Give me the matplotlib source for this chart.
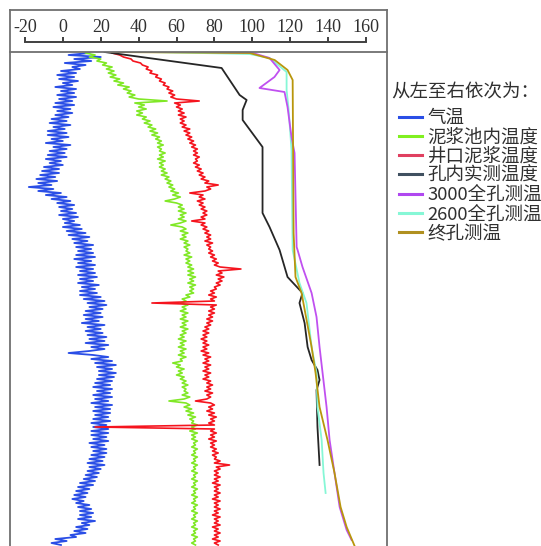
import numpy as np
import matplotlib
matplotlib.use("Agg")
import matplotlib.pyplot as plt

plt.rcParams['font.family'] = ['Noto Sans CJK SC', 'DejaVu Sans']
plt.rcParams['axes.unicode_minus'] = False

# depth is in arbitrary units (0 = top of the plot, 494 = bottom)
noisy_depth = np.arange(1, 494, 2)

# 气温
air_temp = [
    14, 3, 20, 6, 15, 1, 12, 5, 9, -1,
    7, -3, 6, -2, 8, 0, 5, -4, 7, -1,
    6, -3, 7, -2, 5, -4, 6, -5, 4, -3,
    5, -4, 3, -6, 2, -7, 4, -5, 1, -8,
    2, -8, 3, -6, 0, -9, 4, -5, 2, -7,
    1, -8, 2, -9, -1, -7, 0, -10, -2, -11,
    -2, -12, -4, -14, -3, -13, -6, -18, -5, -13,
    -1, -9, 2, -6, 4, -3, 6, -2, 5, -1,
    7, -2, 8, 0, 6, 1, 9, 0, 10, 2,
    12, 3, 14, 5, 13, 6, 16, 7, 15, 8,
    16, 7, 17, 6, 15, 8, 17, 7, 16, 9,
    17, 8, 18, 9, 16, 8, 19, 10, 17, 9,
    18, 9, 20, 11, 22, 13, 23, 14, 21, 12,
    20, 11, 21, 12, 19, 10, 22, 13, 20, 12,
    21, 13, 23, 14, 22, 12, 24, 15, 22, 14,
    3, 16, 24, 15, 26, 17, 28, 18, 26, 19,
    28, 19, 27, 18, 26, 17, 25, 16, 26, 18,
    25, 16, 26, 17, 24, 15, 26, 17, 25, 16,
    25, 17, 24, 16, 25, 15, 23, 16, 24, 15,
    24, 15, 23, 16, 24, 14, 22, 15, 23, 16,
    23, 15, 22, 14, 21, 13, 22, 14, 20, 13,
    19, 12, 18, 11, 17, 9, 16, 8, 14, 7,
    13, 6, 12, 5, 11, 7, 14, 8, 15, 9,
    16, 9, 15, 8, 17, 10, 14, 7, 13, 6,
    12, 4, 7, -4, 2, -6, -1,
]

# 泥浆池内温度
pit_temp = [
    12, 17, 14, 20, 18, 23, 21, 26, 23, 27,
    24, 28, 25, 30, 27, 32, 29, 35, 32, 36,
    34, 38, 35, 40, 55, 38, 43, 40, 44, 39,
    42, 39, 44, 42, 46, 43, 47, 45, 49, 46,
    50, 47, 51, 49, 52, 50, 53, 50, 52, 51,
    54, 51, 53, 50, 54, 51, 53, 51, 54, 52,
    55, 52, 56, 54, 57, 55, 58, 56, 59, 57,
    61, 58, 62, 59, 54, 60, 63, 61, 64, 61,
    65, 62, 64, 61, 65, 62, 57, 63, 65, 62,
    66, 63, 65, 62, 66, 64, 67, 64, 66, 65,
    67, 64, 68, 65, 67, 65, 68, 66, 69, 66,
    69, 66, 70, 67, 69, 66, 70, 67, 69, 67,
    69, 65, 67, 63, 65, 62, 66, 63, 65, 62,
    66, 63, 65, 62, 66, 63, 65, 62, 66, 63,
    65, 62, 64, 61, 65, 62, 64, 61, 65, 62,
    64, 61, 65, 62, 63, 58, 62, 60, 64, 61,
    63, 60, 64, 62, 65, 63, 66, 63, 65, 64,
    66, 63, 67, 64, 56, 65, 67, 64, 68, 65,
    69, 66, 70, 67, 69, 68, 71, 68, 70, 67,
    71, 68, 70, 68, 71, 69, 70, 68, 71, 69,
    70, 68, 71, 69, 70, 68, 71, 69, 70, 68,
    71, 69, 70, 68, 71, 69, 70, 68, 71, 69,
    70, 68, 71, 69, 70, 68, 71, 69, 70, 68,
    71, 69, 70, 68, 71, 69, 70, 68, 71, 69,
    70, 68, 71, 69, 70, 68, 70,
]

# 井口泥浆温度
well_temp = [
    26, 30, 32, 36, 37, 41, 42, 45, 44, 47,
    46, 50, 49, 52, 51, 54, 53, 56, 55, 58,
    56, 59, 57, 60, 72, 59, 62, 60, 63, 61,
    64, 61, 65, 62, 64, 62, 65, 63, 67, 64,
    67, 65, 68, 66, 69, 67, 70, 68, 71, 69,
    71, 69, 72, 70, 71, 69, 72, 70, 73, 71,
    74, 72, 75, 73, 77, 75, 82, 76, 78, 75,
    67, 74, 72, 75, 71, 74, 72, 75, 73, 76,
    74, 76, 73, 75, 68, 75, 73, 76, 74, 77,
    75, 78, 76, 78, 75, 79, 76, 78, 77, 79,
    77, 80, 78, 81, 79, 82, 80, 83, 94, 82,
    84, 81, 85, 82, 84, 81, 83, 80, 81, 78,
    80, 77, 81, 78, 80, 47, 81, 78, 80, 77,
    80, 77, 79, 76, 79, 76, 78, 75, 77, 74,
    77, 74, 76, 73, 76, 74, 77, 74, 76, 73,
    77, 74, 78, 75, 77, 74, 78, 75, 77, 74,
    78, 75, 77, 74, 78, 76, 79, 76, 78, 75,
    79, 76, 78, 76, 70, 78, 80, 77, 79, 76,
    80, 77, 81, 78, 80, 77, 80, 17, 80, 78,
    81, 78, 80, 77, 81, 78, 80, 78, 81, 79,
    82, 79, 81, 80, 83, 80, 88, 81, 83, 80,
    82, 80, 83, 80, 82, 79, 83, 80, 82, 80,
    83, 80, 82, 79, 83, 80, 82, 80, 83, 80,
    82, 79, 83, 80, 82, 80, 83, 79, 82, 80,
    83, 80, 82, 79, 83, 80, 82,
]

# 孔内实测温度
hole_depth = [0, 16, 43, 48, 58, 68, 95, 161, 175, 198, 225, 241, 251, 271,
              295, 308, 318, 328, 338, 375, 413]
hole_temp = [22, 83.8, 93.3, 97, 94.9, 94.9, 105.4, 105.4, 109.1, 114.4, 118.6,
             126.5, 124.9, 127.6, 129.2, 131.3, 134.4, 135.5, 133.9, 134.4, 135.5]

# 3000全孔测温
log3000_depth = [0, 1, 6, 18, 25, 36, 40, 55, 85, 101, 195, 198, 215, 241, 265,
                 295, 321, 355, 388, 421, 455, 478, 488]
log3000_temp = [72.2, 100.2, 109.1, 114.4, 111.7, 103.8, 117.0, 118.6, 120.7,
                122.3, 123.4, 123.9, 126.5, 131.3, 133.9, 135.5, 137.1, 139.2,
                140.8, 143.4, 146.1, 149.8, 152.4]

# 2600全孔测温
log2600_depth = [0, 2, 6, 20, 38, 58, 98, 198, 231, 251, 295, 321, 355, 388, 421, 441]
log2600_temp = [45.8, 98.6, 109.1, 118.1, 118.1, 119.2, 120.7, 121.3, 124.9,
                128.6, 131.3, 133.9, 134.4, 136.6, 137.6, 138.7]

# 终孔测温
final_depth = [0, 1, 8, 18, 28, 181, 225, 241, 295, 321, 355, 388, 421, 455, 475, 494]
final_temp = [24.7, 98.6, 111.8, 118.6, 121.3, 121.8, 122.8, 126.0, 131.3, 133.4,
              135.5, 139.7, 143.4, 146.6, 149.8, 154.0]

xticks = [-20, 0, 20, 40, 60, 80, 100, 120, 140, 160]
labels = ['气温', '泥浆池内温度', '井口泥浆温度', '孔内实测温度',
          '3000全孔测温', '2600全孔测温', '终孔测温']
colors = ['#2a4ee6', '#80e826', '#f5141e', '#262626', '#c050f0', '#86f7d6', '#b8960c']
legend_colors = ['#2a4ee6', '#80f020', '#e04060', '#405060', '#b048f0', '#86f7d6', '#b09020']

W, H = 541, 546
fig = plt.figure(figsize=(W / 100, H / 100), dpi=100)
xlim = (-27.9, 171.1)
frame_col = '#707070'

# outer frame
frame = fig.add_axes([10 / W, 0, 377 / W, (H - 10) / H])
frame.set_xticks([])
frame.set_yticks([])
frame.patch.set_alpha(0)
frame.spines['bottom'].set_visible(False)
for s in ['left', 'right', 'top']:
    frame.spines[s].set_color(frame_col)
    frame.spines[s].set_linewidth(1.3)

# plot area
ax = fig.add_axes([10 / W, 0, 377 / W, (H - 52) / H])
ax.set_xlim(*xlim)
ax.set_ylim(494, 0)
ax.set_xticks([])
ax.set_yticks([])
ax.patch.set_alpha(0)
for s in ['left', 'right', 'bottom']:
    ax.spines[s].set_visible(False)
ax.spines['top'].set_color(frame_col)
ax.spines['top'].set_linewidth(1.3)

handles = []
for vals, c, lw in zip([air_temp, pit_temp, well_temp], colors[:3], [1.3, 1.2, 1.2]):
    h, = ax.plot(vals, noisy_depth, color=c, lw=lw)
    handles.append(h)
for d, v, c in zip([hole_depth, log3000_depth, log2600_depth, final_depth],
                   [hole_temp, log3000_temp, log2600_temp, final_temp], colors[3:]):
    h, = ax.plot(v, d, color=c, lw=1.3)
    handles.append(h)
# draw order: 2600 under 3000 and final
handles[5].set_zorder(2.1)
handles[4].set_zorder(2.2)
handles[6].set_zorder(2.3)

# temperature scale in header
tk = fig.add_axes([10 / W, (H - 42.5) / H, 377 / W, 0.5 / H])
tk.set_xlim(*xlim)
tk.set_yticks([])
tk.patch.set_alpha(0)
for s in ['left', 'right', 'bottom']:
    tk.spines[s].set_visible(False)
tk.spines['top'].set_bounds(-20, 160)
tk.spines['top'].set_color('#404040')
tk.spines['top'].set_linewidth(1.4)
tk.xaxis.tick_top()
tk.set_xticks(xticks)
tk.set_xticklabels([str(t) for t in xticks], family='Liberation Serif', fontsize=13,
                   color='#303030')
tk.tick_params(axis='x', direction='out', length=3.6, width=1.4, color='#404040', pad=1)

# legend
fig.text(391 / W, 1 - 92 / H, '从左至右依次为：', fontsize=13.3, color='#303030',
         ha='left', va='center')
proxies = [plt.Line2D([], [], color=c, lw=2.2) for c in legend_colors]
leg = fig.legend(proxies, labels, loc='upper left', bbox_to_anchor=(399 / W, 1 - 109 / H),
                 frameon=False, fontsize=13.3, handlelength=1.25,
                 handletextpad=0.3, labelspacing=0.07, borderpad=0, borderaxespad=0)
for t in leg.get_texts():
    t.set_color('#303030')

fig.savefig('out.png', dpi=100)
